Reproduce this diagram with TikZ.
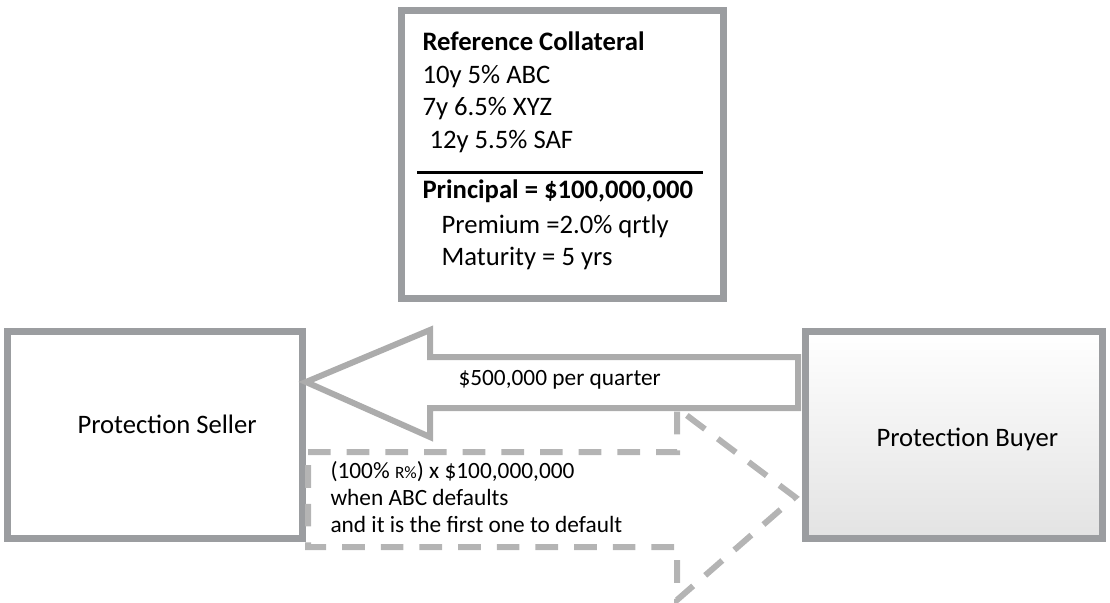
\documentclass[tikz,border=0pt]{standalone}
\usepackage{fontspec}
\setmainfont{Carlito}
\usetikzlibrary{positioning}

\definecolor{boxgray}{RGB}{155,157,160}
\definecolor{arrowgray}{RGB}{172,172,172}
\definecolor{dashgray}{RGB}{180,180,180}

\tikzset{every picture/.style={line width=0.75pt}}
\tikzset{
  partybox/.style={draw=boxgray, line width=5.25pt, inner sep=0pt},
  txt/.style={anchor=base west, inner sep=0pt, font=\fontsize{20}{24}\selectfont},
  smalltxt/.style={anchor=base west, inner sep=0pt, font=\fontsize{17.5}{21}\selectfont},
}

\begin{document}
\begin{tikzpicture}[x=0.75pt,y=0.75pt,yscale=-1,xscale=1]
\useasboundingbox (0,0) rectangle (1110,603);

%Shape: Rectangle [collateral]
\node [partybox, fill=white, minimum width=241.5pt, minimum height=216pt] (collat) at (562,154) {};
%Shape: Rectangle [seller]
\node [partybox, fill=white, minimum width=221.25pt, minimum height=155.25pt] (seller) at (154.5,434.5) {};
%Shape: Rectangle [buyer]
\node [partybox, top color=white, bottom color=black!11, minimum width=222.75pt, minimum height=155.25pt] (buyer) at (953.5,434.5) {};

%Straight Lines [rule]
\draw [line width=2.25pt] (417,172) -- (703,172) ;

%Shape: Left Arrow [premium]
\draw [arrowgray, line width=4.5pt, line join=miter, fill=white] (798,357) -- (430,357) -- (430,330) -- (306,382) -- (430,437) -- (430,408) -- (798,408) -- cycle ;
%Shape: Right Arrow [default payment]
\draw [dashgray, line width=4.5pt, dash pattern=on 17pt off 12pt] (308,452) -- (677,452) -- (677,408) -- (795,497) -- (677,600) -- (677,547) -- (308,547) -- cycle ;

% Text Node
\node [txt, font=\fontsize{20}{24}\selectfont\bfseries] (reftitle) at (422,50) {Reference Collateral};
% Text Node
\node [txt] (bondone) at (422,83) {10y 5\% ABC};
% Text Node
\node [txt] (bondtwo) at (422,115) {7y 6.5\% XYZ};
% Text Node
\node [txt] (bondthree) at (429,148) {12y 5.5\% SAF};
% Text Node
\node [txt, font=\fontsize{20}{24}\selectfont\bfseries] (principal) at (422,198) {Principal = \$100,000,000};
% Text Node
\node [txt] (premium) at (441,233) {Premium =2.0\% qrtly};
% Text Node
\node [txt] (maturity) at (441,265) {Maturity = 5 yrs};

% Text Node
\node [txt] (sellerlbl) at (77,433) {Protection Seller};
% Text Node
\node [txt] (buyerlbl) at (876,446) {Protection Buyer};
% Text Node
\node [smalltxt] (premlbl) at (458,385) {\$500,000 per quarter};
% Text Node
\node [smalltxt] (payone) at (330,478) {(100\% {\fontsize{13}{15}\selectfont R\%}) x \$100,000,000};
% Text Node
\node [smalltxt] (paytwo) at (330,505) {when ABC defaults};
% Text Node
\node [smalltxt] (paythree) at (330,532) {and it is the first one to default};

\end{tikzpicture}
\end{document}
